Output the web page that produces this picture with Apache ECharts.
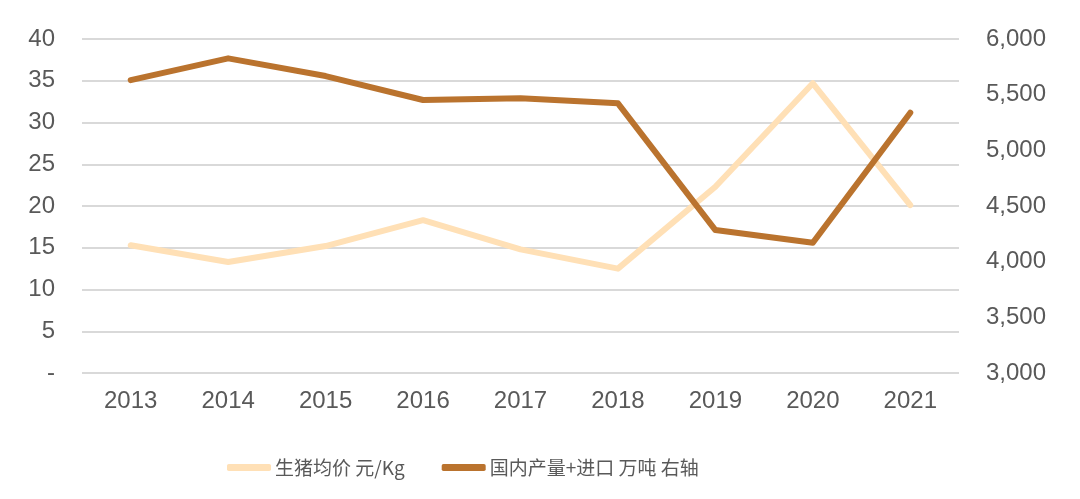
<!DOCTYPE html>
<html>
<head>
<meta charset="utf-8">
<script src="https://cdn.jsdelivr.net/npm/echarts@6/dist/echarts.min.js"></script>
<style>
html,body{margin:0;padding:0;background:#fff;}
#c{width:1080px;height:499px;}
</style>
</head>
<body>
<div id="c"></div>
<script>
const categories = ['2013','2014','2015','2016','2017','2018','2019','2020','2021'];
const hogPrice = [15.3, 13.3, 15.2, 18.3, 14.8, 12.5, 22.3, 34.7, 20.1];
const supply = [5631, 5826, 5667, 5452, 5467, 5422, 4284, 4170, 5338];
const seriesNames = ['生猪均价 元/Kg', '国内产量+进口 万吨 右轴'];

const textColor = '#595959';
const fontFamily = '"Liberation Sans", "Noto Sans CJK SC", sans-serif';
const chart = echarts.init(document.getElementById('c'), null, {renderer:'canvas'});
chart.setOption({
  animation: false,
  backgroundColor: '#fff',
  textStyle: {fontFamily: fontFamily},
  grid: {left: 82, right: 121, top: 39, bottom: 126, containLabel: false},
  legend: {
    bottom: 17,
    left: 222,
    icon: 'roundRect',
    itemWidth: 44,
    itemHeight: 7,
    itemGap: 37,
    textStyle: {color: textColor, fontSize: 19, fontFamily: '"Noto Sans CJK SC", sans-serif', padding: [0,0,0,-1]},
    data: seriesNames
  },
  xAxis: {
    type: 'category',
    data: categories,
    boundaryGap: true,
    axisLine: {show: false},
    axisTick: {show: false},
    axisLabel: {color: textColor, fontSize: 24, margin: 16}
  },
  yAxis: [
    {
      type: 'value', min: 0, max: 40, interval: 5,
      axisLine: {show: false}, axisTick: {show: false},
      splitLine: {lineStyle: {color: '#D9D9D9', width: 2}},
      axisLabel: {color: textColor, fontSize: 24, margin: 27,
        formatter: v => v === 0 ? '-' : String(v)}
    },
    {
      type: 'value', min: 3000, max: 6000, interval: 500,
      axisLine: {show: false}, axisTick: {show: false},
      splitLine: {show: false},
      axisLabel: {color: textColor, fontSize: 24, margin: 27,
        formatter: v => v.toLocaleString('en-US')}
    }
  ],
  series: [
    {
      name: seriesNames[0], type: 'line', data: hogPrice, yAxisIndex: 0,
      showSymbol: false, symbol: 'none',
      lineStyle: {color: '#FFE0B6', width: 6, cap: 'round', join: 'round'},
      itemStyle: {color: '#FFE0B6'}
    },
    {
      name: seriesNames[1], type: 'line', data: supply, yAxisIndex: 1,
      showSymbol: false, symbol: 'none',
      lineStyle: {color: '#BA732E', width: 6, cap: 'round', join: 'round'},
      itemStyle: {color: '#BA732E'}
    }
  ]
});
</script>
</body>
</html>
